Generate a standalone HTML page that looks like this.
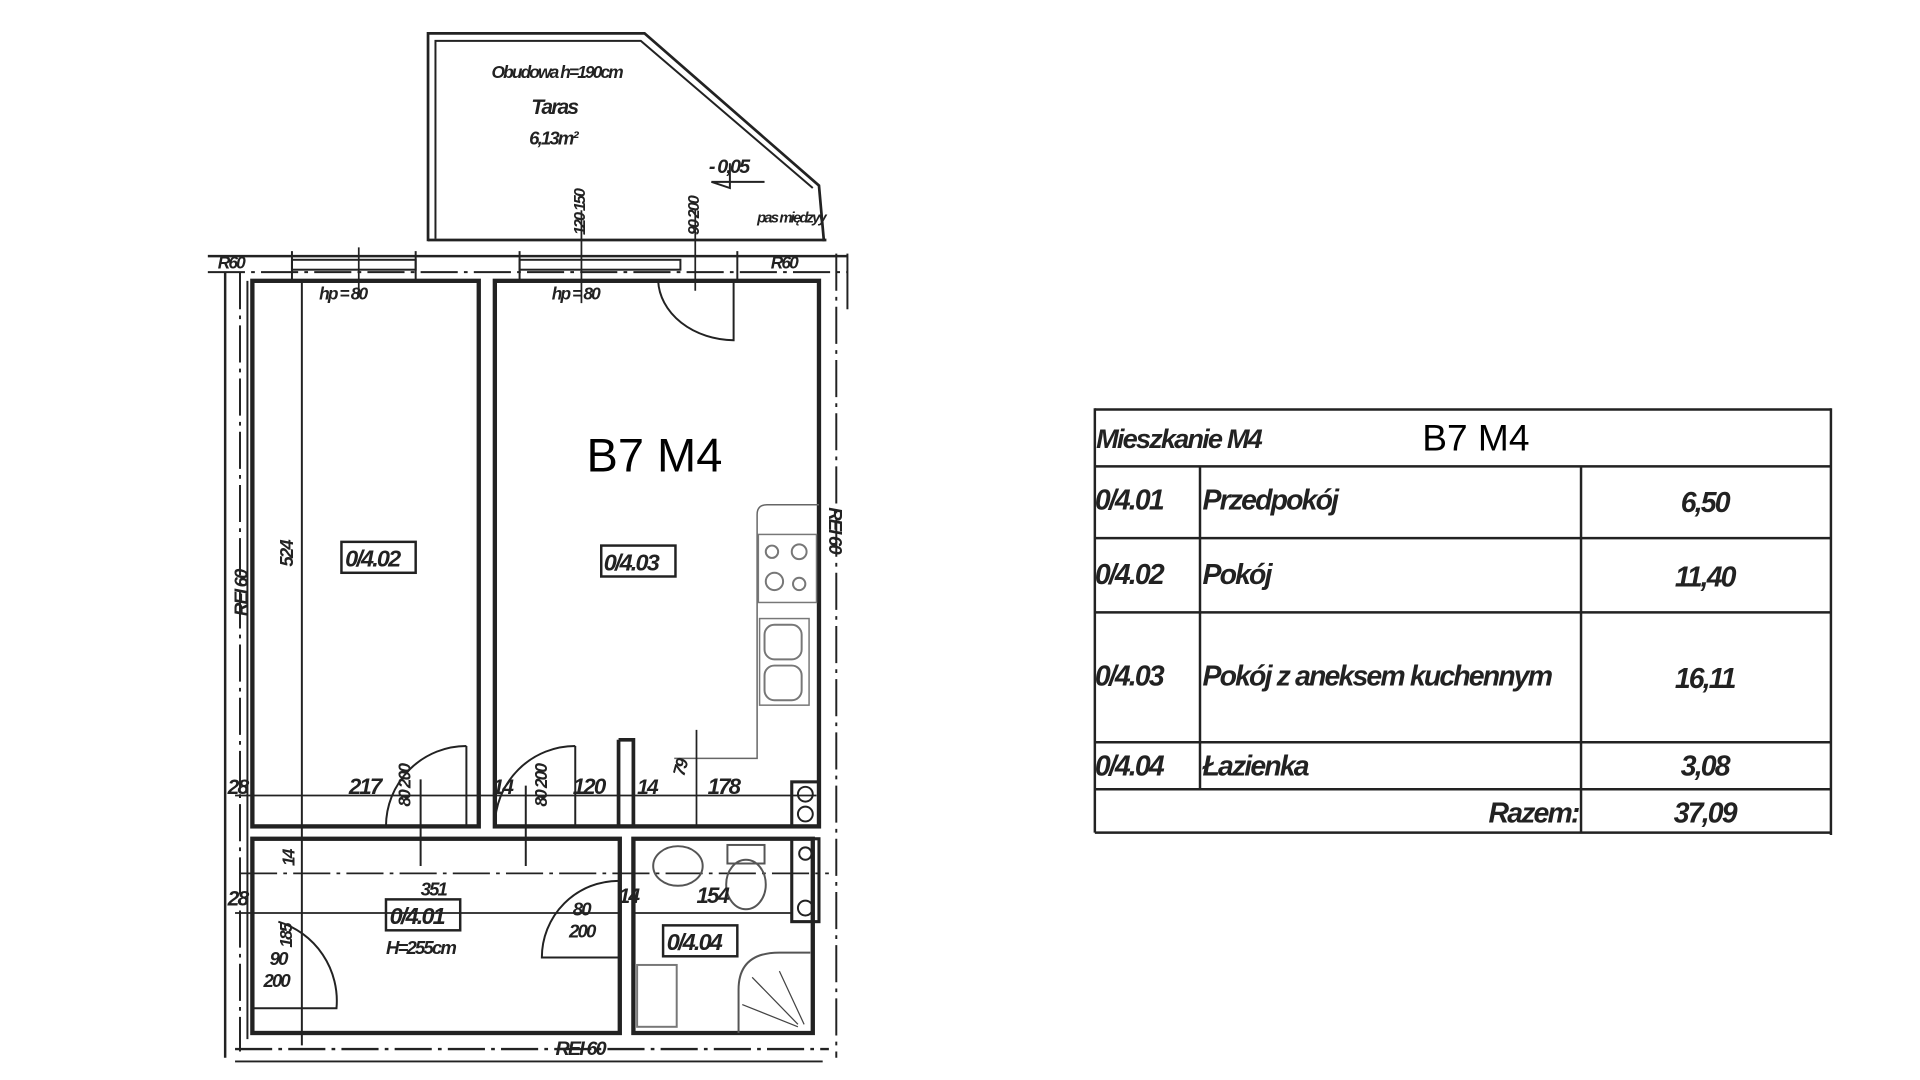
<!DOCTYPE html>
<html><head><meta charset="utf-8"><style>
html,body{margin:0;padding:0;background:#fff;width:1920px;height:1080px;overflow:hidden}
svg{display:block}
text{font-family:"Liberation Sans",sans-serif;fill:#222}
.c{font-style:italic;font-weight:bold;letter-spacing:-1.5px}
</style></head><body>
<svg width="1920" height="1080" viewBox="0 0 1552 873" preserveAspectRatio="none" xmlns="http://www.w3.org/2000/svg">
<g fill="none" stroke="#222" stroke-width="1.6">
<path d="M346 195 V27 H521 L662 150 L666 195" stroke-width="2.2"/>
<path d="M352 193 V33 H518 L657 152" />
<path d="M346 194 H668" stroke-width="2.2"/>
<path d="M168 207 H685" stroke-width="2"/>
<path d="M168 220 H685" stroke-dasharray="30 5 3 5"/>
<path d="M200 227 V840" />
<path d="M182 220 V855" stroke-width="2"/>
<path d="M194 220 V850" stroke-dasharray="30 5 3 5"/>
<path d="M676 205 V855" stroke-dasharray="30 5 3 5"/>
<path d="M685 205 V250" />
<path d="M190 848 H670" stroke-dasharray="30 5 3 5" stroke-width="2"/>
<path d="M190 858 H665" />
<rect x="236" y="210" width="100" height="8"/>
<rect x="420" y="210" width="130" height="8"/>
<path d="M336 203 V227 M420 203 V227 M596 203 V227 M236 203 V227"/>
<rect x="204" y="227" width="183" height="441" stroke-width="3.5"/>
<rect x="400" y="227" width="262" height="441" stroke-width="3.5"/>
<path d="M244 227 V845"/>
<rect x="204" y="678" width="297" height="157" stroke-width="3.5"/>
<path d="M512 678 H657 V835 H512 Z" stroke-width="3.5"/>
<path d="M500 598 H512 V668 M500 598 V668" stroke-width="3"/>
<rect x="640" y="632" width="22" height="36" stroke-width="2.5"/>
<rect x="640" y="678" width="22" height="67" stroke-width="2.5"/>
<circle cx="651" cy="642" r="6"/><circle cx="651" cy="658" r="6"/>
<circle cx="651" cy="690" r="5"/><circle cx="651" cy="734" r="6"/>
<path d="M662 408 H620 Q612 408 612 416 V613 H545" stroke="#666" stroke-width="1.2"/>
<rect x="613" y="432" width="47" height="55" stroke="#777" stroke-width="1.2"/>
<circle cx="624" cy="446" r="5" stroke="#777"/><circle cx="646" cy="446" r="6" stroke="#777"/>
<circle cx="626" cy="470" r="7" stroke="#777"/><circle cx="646" cy="472" r="5" stroke="#777"/>
<rect x="614" y="500" width="40" height="70" stroke="#777" stroke-width="1.2"/>
<rect x="618" y="505" width="30" height="28" rx="8" stroke="#777"/>
<rect x="618" y="538" width="30" height="28" rx="8" stroke="#777"/>
<path d="M190 643 H660 M190 738 H500 M512 738 H640" stroke-width="1.4"/>
<path d="M194 706 H670" stroke-dasharray="30 5 3 5" stroke-width="1.4"/>
<path d="M563 590 V668 M290 200 V240 M470 170 V245 M562 170 V235" stroke-width="1.4"/>
<path d="M377 603 V668 M377 603 A65 65 0 0 0 312 668"/>
<path d="M465 603 V668 M465 603 A65 65 0 0 0 400 668"/>
<path d="M340 630 V700 M425 635 V700"/>
<path d="M500 712 A62 62 0 0 0 438 774 H500"/>
<path d="M205 815 H272 A67 67 0 0 0 225 745"/>
<path d="M593 227 V275 A62 50 0 0 1 532 227"/>
<ellipse cx="548" cy="700" rx="20" ry="16" stroke="#555"/>
<rect x="588" y="683" width="30" height="15" stroke="#555"/>
<ellipse cx="603" cy="715" rx="16" ry="20" stroke="#555"/>
<path d="M597 835 V800 Q597 770 630 770 H655" stroke="#555"/>
<path d="M608 790 L645 828 M630 785 L650 828 M600 812 L645 830" stroke="#444" stroke-width="1"/>
<rect x="515" y="780" width="32" height="50" stroke="#777"/>
<path d="M575 147 H618 M590 132 V152 L575 147"/>
</g>
<g class="c" font-size="15">
<text x="450" y="63" text-anchor="middle" font-size="14">Obudowa h=190cm</text>
<text x="448" y="92" text-anchor="middle" font-size="17">Taras</text>
<text x="447" y="117" text-anchor="middle" font-size="15">6,13m²</text>
<text x="573" y="140" font-size="16">- 0,05</text>
<text x="612" y="180" font-size="12">pas międzyy</text>
<text x="176" y="217" font-size="14">R60</text>
<text x="623" y="217" font-size="14">R60</text>
<text x="258" y="242" font-size="14">hp = 80</text>
<text x="446" y="242" font-size="14">hp = 80</text>
<text transform="translate(473,190) rotate(-90)" font-size="13">120 150</text>
<text transform="translate(565,190) rotate(-90)" font-size="13">90 200</text>
<text transform="translate(200,498) rotate(-90)" font-size="15">REI 60</text>
<text transform="translate(237,458) rotate(-90)" font-size="15">524</text>
<text transform="translate(670,410) rotate(90)" font-size="15">REI 60</text>
<text x="184" y="642" font-size="17">28</text>
<text x="282" y="642" font-size="18">217</text>
<text transform="translate(332,652) rotate(-90)" font-size="14">80 200</text>
<text x="398" y="642" font-size="17">14</text>
<text transform="translate(442,652) rotate(-90)" font-size="14">80 200</text>
<text x="463" y="642" font-size="18">120</text>
<text x="515" y="642" font-size="17">14</text>
<text transform="translate(553,628) rotate(-75)" font-size="14">79</text>
<text x="572" y="642" font-size="18">178</text>
<text transform="translate(238,700) rotate(-90)" font-size="14">14</text>
<text x="184" y="732" font-size="17">28</text>
<text x="340" y="724" font-size="15">351</text>
<text x="500" y="730" font-size="17">14</text>
<text transform="translate(236,766) rotate(-90)" font-size="14">185</text>
<text x="218" y="780" font-size="15">90</text>
<text x="213" y="798" font-size="15">200</text>
<text x="463" y="740" font-size="15">80</text>
<text x="460" y="758" font-size="15">200</text>
<text x="563" y="730" font-size="18">154</text>
<text x="312" y="771" font-size="15">H=255cm</text>
<text x="449" y="853" font-size="16">REI 60</text>
</g>
<g fill="none" stroke="#222" stroke-width="2">
<rect x="276" y="438" width="60" height="25"/>
<rect x="486" y="441" width="60" height="25"/>
<rect x="312" y="727" width="60" height="25"/>
<rect x="536" y="748" width="60" height="25"/>
</g>
<g class="c" font-size="19">
<text x="279" y="458">0/4.02</text>
<text x="488" y="461">0/4.03</text>
<text x="315" y="747">0/4.01</text>
<text x="539" y="768">0/4.04</text>
</g>
<text x="529" y="381" text-anchor="middle" font-size="38" style="fill:#000">B7 M4</text>
<g fill="none" stroke="#222" stroke-width="2">
<path d="M885 331 H1480 M885 377 H1480 M885 435 H1480 M885 495 H1480 M885 600 H1480 M885 638 H1480 M885 673 H1480"/>
<path d="M885 330 V673 M1480 330 V675 M970 377 V638 M1278 377 V673"/>
</g>
<g class="c" font-size="23">
<text x="886" y="362" font-size="22">Mieszkanie M4</text>
<text x="885" y="412">0/4.01</text><text x="972" y="412">Przedpokój</text><text x="1378" y="414" text-anchor="middle">6,50</text>
<text x="885" y="472">0/4.02</text><text x="972" y="472">Pokój</text><text x="1378" y="474" text-anchor="middle">11,40</text>
<text x="885" y="554">0/4.03</text><text x="972" y="554">Pokój z aneksem kuchennym</text><text x="1378" y="556" text-anchor="middle">16,11</text>
<text x="885" y="627">0/4.04</text><text x="972" y="627">Łazienka</text><text x="1378" y="627" text-anchor="middle">3,08</text>
<text x="1276" y="665" text-anchor="end">Razem:</text><text x="1378" y="665" text-anchor="middle">37,09</text>
</g>
<text x="1193" y="364" text-anchor="middle" font-size="30" style="fill:#000">B7 M4</text>
</svg>
</body></html>
